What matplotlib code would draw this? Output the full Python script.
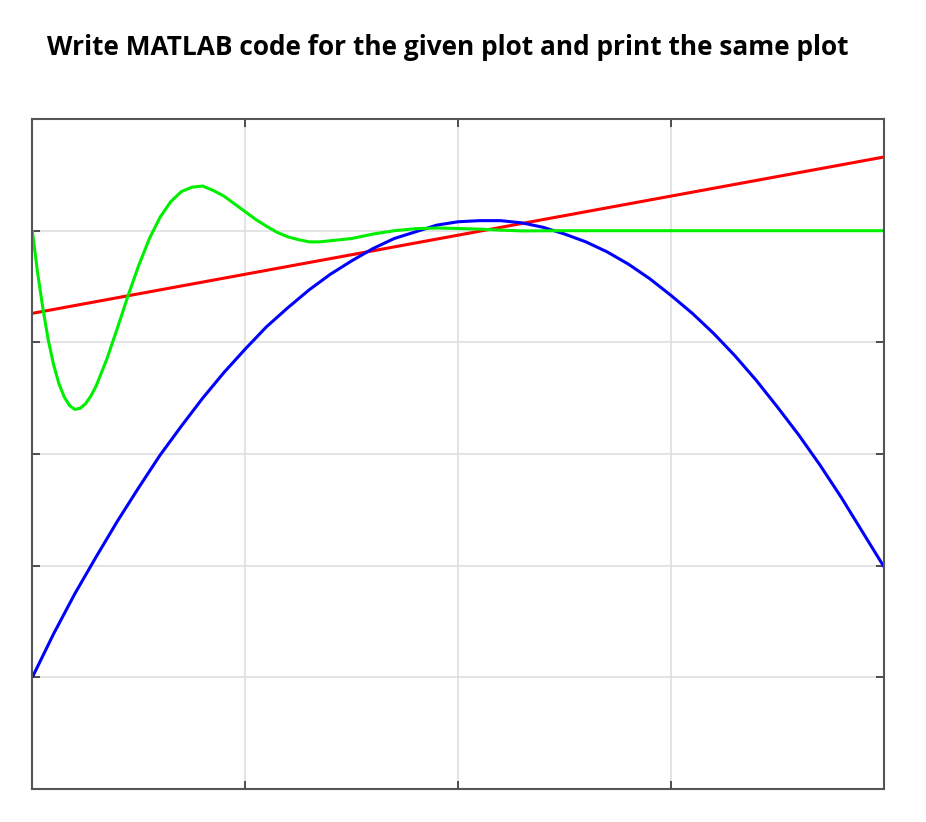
import numpy as np
import matplotlib.pyplot as plt

# ------------------------------------------------------------
# Data (axes units: x 0..4, y 0..6)
# ------------------------------------------------------------

blue_x = [0.0, 0.1, 0.2, 0.3, 0.4, 0.5, 0.6, 0.7, 0.8, 0.9,
          1.0, 1.1, 1.2, 1.3, 1.4, 1.5, 1.6, 1.7, 1.8, 1.9,
          2.0, 2.1, 2.2, 2.3, 2.4, 2.5, 2.6, 2.7, 2.8, 2.9,
          3.0, 3.1, 3.2, 3.3, 3.4, 3.5, 3.6, 3.7, 3.8, 3.9, 4.0]
blue_y = [1.00, 1.39, 1.75, 2.08, 2.40, 2.70, 2.99, 3.25, 3.50, 3.73,
          3.94, 4.14, 4.31, 4.47, 4.61, 4.73, 4.84, 4.93, 4.99, 5.05,
          5.08, 5.09, 5.09, 5.07, 5.03, 4.97, 4.90, 4.81, 4.70, 4.57,
          4.42, 4.26, 4.08, 3.88, 3.66, 3.42, 3.17, 2.90, 2.61, 2.30, 1.99]

red_x = [0.0, 4.0]
red_y = [4.26, 5.66]

green_x = [0.0, 0.025, 0.05, 0.075, 0.1, 0.125, 0.15, 0.175, 0.2, 0.225,
           0.25, 0.275, 0.3, 0.35, 0.4, 0.45, 0.5, 0.55, 0.6, 0.65,
           0.7, 0.75, 0.8, 0.85, 0.9, 0.95, 1.0, 1.05, 1.1, 1.15,
           1.2, 1.25, 1.3, 1.35, 1.4, 1.45, 1.5, 1.6, 1.7, 1.8,
           1.9, 2.0, 2.1, 2.2, 2.3, 2.5, 3.0, 3.5, 4.0]
green_y = [5.00, 4.62, 4.30, 4.02, 3.80, 3.63, 3.51, 3.435, 3.40, 3.41,
           3.45, 3.52, 3.61, 3.85, 4.13, 4.42, 4.69, 4.93, 5.12, 5.26,
           5.35, 5.39, 5.40, 5.36, 5.31, 5.24, 5.17, 5.10, 5.04, 4.985,
           4.945, 4.92, 4.90, 4.90, 4.91, 4.92, 4.93, 4.97, 5.00, 5.018,
           5.024, 5.02, 5.014, 5.005, 4.998, 5.0, 5.0, 5.0, 5.0]

x_ticks = [0, 1, 2, 3, 4]
y_ticks = [0, 1, 2, 3, 4, 5, 6]

title = "Write MATLAB code for the given plot and print the same plot"

# ------------------------------------------------------------
# Figure
# ------------------------------------------------------------

fig = plt.figure(figsize=(9.26, 8.22), dpi=100)
ax = fig.add_axes([0.0349, 0.0401, 0.9197, 0.8151])

ax.plot(red_x, red_y, color="#FF0000", linewidth=2.2, solid_capstyle="butt")
ax.plot(blue_x, blue_y, color="#0000FF", linewidth=2.2, solid_capstyle="butt",
        solid_joinstyle="round")
ax.plot(green_x, green_y, color="#00EE00", linewidth=2.2, solid_capstyle="butt",
        solid_joinstyle="round")

ax.set_xlim(0, 4)
ax.set_ylim(0, 6)
ax.set_xticks(x_ticks)
ax.set_yticks(y_ticks)
ax.set_xticklabels([])
ax.set_yticklabels([])

ax.grid(True, color="#DDDDDD", linewidth=1.1)
ax.set_axisbelow(True)

ax.tick_params(direction="in", length=6, width=1.2, color="#333333",
               top=True, right=True)
for s in ax.spines.values():
    s.set_color("#555555")
    s.set_linewidth(1.5)

# title: fit the width seen in the reference (about 805 px)
t = fig.text(0.0508, 0.9331, title, ha="left", va="baseline",
             fontsize=17, fontweight="bold", family="Open Sans")
fig.canvas.draw()
w = t.get_window_extent().width
t.set_fontsize(17 * 805.0 / w)

fig.savefig("out.png", dpi=100)
